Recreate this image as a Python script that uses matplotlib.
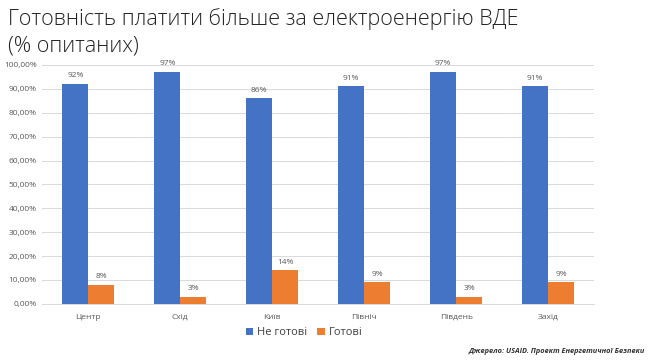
import numpy as np
import matplotlib
matplotlib.use('Agg')
import matplotlib.pyplot as plt
from matplotlib.ticker import FuncFormatter

regions = ["Центр", "Схід", "Київ", "Північ", "Південь", "Захід"]
not_ready = [92, 97, 86, 91, 97, 91]
ready = [8, 3, 14, 9, 3, 9]

BLUE = "#4472C4"
ORANGE = "#ED7D31"
GRAY = "#595959"

plt.rcParams['font.family'] = ['Open Sans', 'DejaVu Sans']

fig = plt.figure(figsize=(6.5, 3.63), dpi=100)
fig.patch.set_facecolor('white')
ax = fig.add_axes([0.065, 0.163, 0.849, 0.658])

x = np.arange(len(regions))
w = 0.28
b1 = ax.bar(x - w / 2, not_ready, w, color=BLUE, label="Не готові", zorder=3)
b2 = ax.bar(x + w / 2, ready, w, color=ORANGE, label="Готові", zorder=3)

for bars, vals in ((b1, not_ready), (b2, ready)):
    for r, v in zip(bars, vals):
        ax.text(r.get_x() + r.get_width() / 2, v + 2, f"{v}%",
                ha='center', va='bottom', fontsize=6, color=GRAY)

ax.set_xlim(-0.5, len(regions) - 0.5)
ax.set_ylim(0, 100)
ax.set_yticks(np.arange(0, 101, 10))
ax.yaxis.set_major_formatter(FuncFormatter(lambda v, p: f"{v:.2f}%".replace('.', ',')))
ax.set_xticks(x)
ax.set_xticklabels(regions)
ax.tick_params(axis='both', length=0, labelsize=6, colors=GRAY, pad=4)
ax.tick_params(axis='x', pad=7)
ax.grid(axis='y', color='#d9d9d9', linewidth=0.7, zorder=0)
for s in ('top', 'right', 'left'):
    ax.spines[s].set_visible(False)
ax.spines['bottom'].set_color('#d9d9d9')
ax.spines['bottom'].set_linewidth(0.7)

fig.legend(handles=[b1, b2], loc='center', bbox_to_anchor=(0.468, 0.083),
           ncol=2, frameon=False, fontsize=8, handlelength=0.7,
           handleheight=0.7, handletextpad=0.35, columnspacing=0.9,
           labelcolor='#404040')

fig.text(0.012, 0.93, "Готовність платити більше за електроенергію ВДЕ",
         fontsize=15.5, color='#222222', va='baseline', fontweight='light')
fig.text(0.012, 0.858, "(% опитаних)",
         fontsize=15.5, color='#222222', va='baseline', fontweight='light')

fig.text(0.992, 0.028, "Джерело: USAID. Проект Енергетичної Безпеки",
         fontsize=5.3, style='italic', fontweight='bold', color='#333333',
         ha='right', va='baseline')

fig.savefig('out.png', dpi=100, facecolor='white')
